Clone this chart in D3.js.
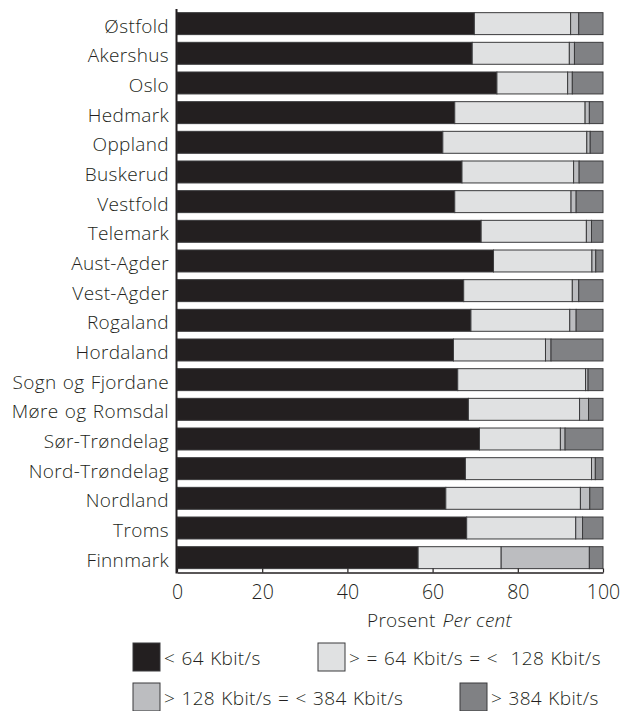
<!DOCTYPE html>
<html>
<head>
<meta charset="utf-8">
<script src="https://cdn.jsdelivr.net/npm/d3@7"></script>
<style>
  html, body { margin: 0; padding: 0; background: #fff; }
  svg { display: block; }
  text { font-family: "Open Sans", "Noto Sans", sans-serif; fill: #231f20; font-weight: 350; }
</style>
</head>
<body>
<svg id="chart" width="623" height="711"></svg>
<script>
const counties = ["Østfold","Akershus","Oslo","Hedmark","Oppland","Buskerud","Vestfold","Telemark","Aust-Agder","Vest-Agder","Rogaland","Hordaland","Sogn og Fjordane","Møre og Romsdal","Sør-Trøndelag","Nord-Trøndelag","Nordland","Troms","Finnmark"];
const below64   = [69.8,69.3,75.1,65.2,62.4,66.9,65.2,71.4,74.3,67.3,69.0,64.9,65.9,68.4,71.0,67.7,63.1,68.0,56.6];
const from64to128 = [22.6,22.8,16.6,30.6,33.8,26.2,27.3,24.7,23.1,25.5,23.2,21.6,30.0,26.1,19.0,29.6,31.6,25.6,19.5];
const from128to384 = [1.9,1.2,1.1,1.0,0.8,1.3,1.2,1.2,0.9,1.5,1.5,1.3,0.6,2.1,1.1,0.9,2.2,1.6,20.7];
const above384  = [5.7,6.7,7.2,3.2,3.0,5.6,6.3,2.7,1.7,5.7,6.3,12.2,3.5,3.4,8.9,1.8,3.1,4.8,3.2];
const seriesNames = ["< 64 Kbit/s", "> = 64 Kbit/s = <  128 Kbit/s", "> 128 Kbit/s = < 384 Kbit/s", "> 384 Kbit/s"];
const seriesColors = ["#231f20", "#e0e1e2", "#bcbdc0", "#808184"];
const xTicks = [0, 20, 40, 60, 80, 100];

const keys = ["a","b","c","d"];
const rows = counties.map((c, i) => ({county: c, a: below64[i], b: from64to128[i], c: from128to384[i], d: above384[i]}));
const stacked = d3.stack().keys(keys)(rows);

const svg = d3.select("#chart");
const x = d3.scaleLinear().domain([0, 100]).range([177, 603]);
const y = d3.scaleBand().domain(counties).range([8.8, 572.5]).paddingInner(0.26).paddingOuter(0.13);

const g = svg.append("g");
g.selectAll("g.series").data(stacked).join("g")
  .attr("fill", (d, i) => seriesColors[i])
  .selectAll("rect").data(d => d).join("rect")
  .attr("x", d => x(d[0]))
  .attr("y", d => y(d.data.county))
  .attr("width", d => x(d[1]) - x(d[0]))
  .attr("height", y.bandwidth())
  .attr("stroke", "#3a3a3c")
  .attr("stroke-width", 1);

// category labels
svg.append("g").selectAll("text").data(counties).join("text")
  .attr("x", 169)
  .attr("y", d => y(d) + y.bandwidth() / 2 + 9)
  .attr("text-anchor", "end")
  .attr("font-size", 19)
  .attr("letter-spacing", 0.35)
  .attr("word-spacing", 1)
  .text(d => d);

// left axis line
svg.append("line").attr("x1", 176.5).attr("x2", 176.5).attr("y1", 9).attr("y2", 573.5)
  .attr("stroke", "#231f20").attr("stroke-width", 2);

// bottom axis
const xAxis = d3.axisBottom(x).tickValues(xTicks).tickSize(-4).tickPadding(13).tickSizeOuter(0);
const ax = svg.append("g").attr("transform", "translate(0,572.5)").call(xAxis);
ax.select(".domain").attr("stroke", "#231f20").attr("stroke-width", 1.5);
ax.selectAll(".tick line").attr("stroke", "#231f20").attr("stroke-width", 1.2);
ax.selectAll(".tick text").attr("font-size", 19.5).attr("fill", "#231f20")
  .attr("font-family", "Open Sans, Noto Sans, sans-serif").attr("font-weight", 350);

// axis title
const title = svg.append("text").attr("x", 367).attr("y", 627).attr("font-size", 19).attr("letter-spacing", 0.3);
title.append("tspan").text("Prosent");
title.append("tspan").attr("dx", 7).attr("font-style", "italic").text("Per cent");

// legend
const legendPos = [
  {sx: 133, sy: 643, tx: 164, ty: 665},
  {sx: 318, sy: 643, tx: 349, ty: 665},
  {sx: 133, sy: 683, tx: 164, ty: 705},
  {sx: 460, sy: 683, tx: 491, ty: 705}
];
const lg = svg.append("g").selectAll("g").data(seriesNames).join("g");
lg.append("rect")
  .attr("x", (d, i) => legendPos[i].sx)
  .attr("y", (d, i) => legendPos[i].sy)
  .attr("width", 27).attr("height", 28)
  .attr("fill", (d, i) => seriesColors[i])
  .attr("stroke", "#3a3a3c").attr("stroke-width", 1);
lg.append("text")
  .attr("x", (d, i) => legendPos[i].tx)
  .attr("y", (d, i) => legendPos[i].ty)
  .attr("font-size", 19)
  .attr("letter-spacing", 0.35)
  .attr("word-spacing", 1)
  .style("white-space", "pre")
  .text(d => d);
</script>
</body>
</html>
